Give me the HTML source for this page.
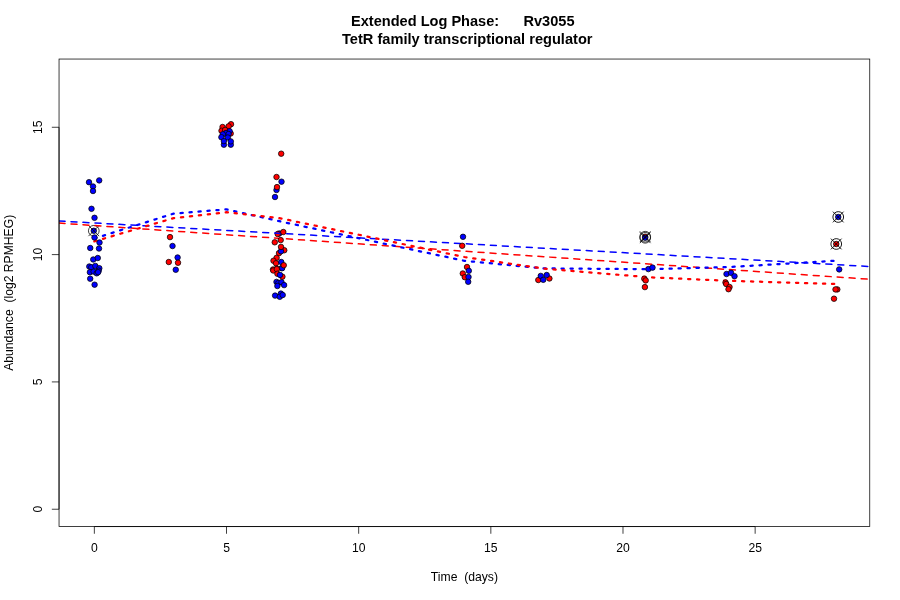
<!DOCTYPE html>
<html><head><meta charset="utf-8"><title>Rv3055</title>
<style>html,body{margin:0;padding:0;background:#fff;width:900px;height:600px;overflow:hidden}svg{display:block;will-change:transform}svg text{white-space:pre}</style>
</head><body>
<svg width="900" height="600" viewBox="0 0 900 600">
<rect x="0" y="0" width="900" height="600" fill="#fff"/>
<defs><clipPath id="c"><rect x="59.04" y="59.04" width="810.72" height="467.52"/></clipPath></defs>
<g clip-path="url(#c)">
<circle cx="645.20" cy="236.70" r="2.75" fill="#ff0000" stroke="#000" stroke-width="0.75"/>
<circle cx="93.80" cy="230.80" r="2.75" fill="#0000ff" stroke="#000" stroke-width="0.75"/>
<circle cx="645.20" cy="237.80" r="2.75" fill="#0000ff" stroke="#000" stroke-width="0.75"/>
<circle cx="836.25" cy="244.00" r="2.75" fill="#ff0000" stroke="#000" stroke-width="0.75"/>
<circle cx="838.25" cy="217.00" r="2.75" fill="#0000ff" stroke="#000" stroke-width="0.75"/>
<g fill="none" stroke="#000" stroke-width="0.75"><circle cx="93.80" cy="230.80" r="5.35"/><path d="M88.45 225.45L99.15 236.15M88.45 236.15L99.15 225.45"/></g>
<g fill="none" stroke="#000" stroke-width="0.75"><circle cx="645.20" cy="236.70" r="5.35"/><path d="M639.85 231.35L650.55 242.05M639.85 242.05L650.55 231.35"/></g>
<g fill="none" stroke="#000" stroke-width="0.75"><circle cx="645.20" cy="237.80" r="5.35"/><path d="M639.85 232.45L650.55 243.15M639.85 243.15L650.55 232.45"/></g>
<g fill="none" stroke="#000" stroke-width="0.9"><circle cx="838.25" cy="217.00" r="5.35"/><path d="M832.90 211.65L843.60 222.35M832.90 222.35L843.60 211.65"/></g>
<g fill="none" stroke="#000" stroke-width="0.9"><circle cx="836.25" cy="244.00" r="5.35"/><path d="M830.90 238.65L841.60 249.35M830.90 249.35L841.60 238.65"/></g>
<circle cx="279.20" cy="233.50" r="2.75" fill="#0000ff" stroke="#000" stroke-width="0.75"/>
<circle cx="277.70" cy="234.00" r="2.75" fill="#ff0000" stroke="#000" stroke-width="0.75"/>
<line x1="59.04" y1="221.0" x2="869.76" y2="266.5" stroke="#0000ff" stroke-width="1.5" stroke-dasharray="6 6" stroke-linecap="round"/>
<line x1="59.04" y1="223.1" x2="869.76" y2="279.3" stroke="#ff0000" stroke-width="1.5" stroke-dasharray="6 6" stroke-linecap="round"/>
<polyline points="94.35,238.50 173.65,213.60 226.51,209.40 279.37,221.20 464.40,260.80 543.69,268.40 649.42,269.20 728.72,267.10 834.45,260.80" fill="none" stroke="#0000ff" stroke-width="2.25" stroke-dasharray="2.25 6.75" stroke-linecap="round" stroke-linejoin="round"/>
<polyline points="94.35,241.40 173.65,218.10 226.51,212.20 279.37,218.10 464.40,257.00 543.69,268.60 649.42,277.30 728.72,280.80 834.45,284.00" fill="none" stroke="#ff0000" stroke-width="2.25" stroke-dasharray="2.25 6.75" stroke-linecap="round" stroke-linejoin="round"/>
<circle cx="89.00" cy="182.20" r="2.75" fill="#0000ff" stroke="#000" stroke-width="0.75"/>
<circle cx="99.20" cy="180.40" r="2.75" fill="#0000ff" stroke="#000" stroke-width="0.75"/>
<circle cx="93.00" cy="186.50" r="2.75" fill="#0000ff" stroke="#000" stroke-width="0.75"/>
<circle cx="93.00" cy="191.00" r="2.75" fill="#0000ff" stroke="#000" stroke-width="0.75"/>
<circle cx="91.50" cy="208.80" r="2.75" fill="#0000ff" stroke="#000" stroke-width="0.75"/>
<circle cx="94.50" cy="217.80" r="2.75" fill="#0000ff" stroke="#000" stroke-width="0.75"/>
<circle cx="94.50" cy="237.50" r="2.75" fill="#0000ff" stroke="#000" stroke-width="0.75"/>
<circle cx="99.50" cy="242.50" r="2.75" fill="#0000ff" stroke="#000" stroke-width="0.75"/>
<circle cx="90.25" cy="248.00" r="2.75" fill="#0000ff" stroke="#000" stroke-width="0.75"/>
<circle cx="99.00" cy="248.50" r="2.75" fill="#0000ff" stroke="#000" stroke-width="0.75"/>
<circle cx="93.25" cy="259.50" r="2.75" fill="#0000ff" stroke="#000" stroke-width="0.75"/>
<circle cx="97.75" cy="258.00" r="2.75" fill="#0000ff" stroke="#000" stroke-width="0.75"/>
<circle cx="89.30" cy="266.50" r="2.75" fill="#0000ff" stroke="#000" stroke-width="0.75"/>
<circle cx="91.30" cy="267.30" r="2.75" fill="#0000ff" stroke="#000" stroke-width="0.75"/>
<circle cx="95.30" cy="265.90" r="2.75" fill="#0000ff" stroke="#000" stroke-width="0.75"/>
<circle cx="99.30" cy="268.20" r="2.75" fill="#0000ff" stroke="#000" stroke-width="0.75"/>
<circle cx="98.70" cy="270.70" r="2.75" fill="#0000ff" stroke="#000" stroke-width="0.75"/>
<circle cx="89.90" cy="272.20" r="2.75" fill="#0000ff" stroke="#000" stroke-width="0.75"/>
<circle cx="93.60" cy="271.60" r="2.75" fill="#0000ff" stroke="#000" stroke-width="0.75"/>
<circle cx="96.70" cy="273.30" r="2.75" fill="#0000ff" stroke="#000" stroke-width="0.75"/>
<circle cx="98.10" cy="272.20" r="2.75" fill="#0000ff" stroke="#000" stroke-width="0.75"/>
<circle cx="90.20" cy="278.70" r="2.75" fill="#0000ff" stroke="#000" stroke-width="0.75"/>
<circle cx="94.60" cy="284.70" r="2.75" fill="#0000ff" stroke="#000" stroke-width="0.75"/>
<circle cx="170.00" cy="237.10" r="2.75" fill="#ff0000" stroke="#000" stroke-width="0.75"/>
<circle cx="168.80" cy="262.00" r="2.75" fill="#ff0000" stroke="#000" stroke-width="0.75"/>
<circle cx="172.50" cy="246.00" r="2.75" fill="#0000ff" stroke="#000" stroke-width="0.75"/>
<circle cx="177.60" cy="257.50" r="2.75" fill="#0000ff" stroke="#000" stroke-width="0.75"/>
<circle cx="175.75" cy="269.75" r="2.75" fill="#0000ff" stroke="#000" stroke-width="0.75"/>
<circle cx="178.00" cy="262.75" r="2.75" fill="#ff0000" stroke="#000" stroke-width="0.75"/>
<circle cx="222.55" cy="127.00" r="2.75" fill="#ff0000" stroke="#000" stroke-width="0.75"/>
<circle cx="231.00" cy="124.20" r="2.75" fill="#ff0000" stroke="#000" stroke-width="0.75"/>
<circle cx="228.60" cy="126.30" r="2.75" fill="#ff0000" stroke="#000" stroke-width="0.75"/>
<circle cx="221.50" cy="130.80" r="2.75" fill="#ff0000" stroke="#000" stroke-width="0.75"/>
<circle cx="225.10" cy="129.90" r="2.75" fill="#ff0000" stroke="#000" stroke-width="0.75"/>
<circle cx="230.70" cy="133.50" r="2.75" fill="#ff0000" stroke="#000" stroke-width="0.75"/>
<circle cx="229.60" cy="131.20" r="2.75" fill="#0000ff" stroke="#000" stroke-width="0.75"/>
<circle cx="226.00" cy="133.00" r="2.75" fill="#0000ff" stroke="#000" stroke-width="0.75"/>
<circle cx="228.60" cy="134.00" r="2.75" fill="#0000ff" stroke="#000" stroke-width="0.75"/>
<circle cx="222.80" cy="134.30" r="2.75" fill="#0000ff" stroke="#000" stroke-width="0.75"/>
<circle cx="221.40" cy="137.20" r="2.75" fill="#0000ff" stroke="#000" stroke-width="0.75"/>
<circle cx="227.80" cy="137.50" r="2.75" fill="#0000ff" stroke="#000" stroke-width="0.75"/>
<circle cx="223.90" cy="144.70" r="2.75" fill="#0000ff" stroke="#000" stroke-width="0.75"/>
<circle cx="230.80" cy="144.70" r="2.75" fill="#0000ff" stroke="#000" stroke-width="0.75"/>
<circle cx="223.90" cy="141.10" r="2.75" fill="#0000ff" stroke="#000" stroke-width="0.75"/>
<circle cx="230.80" cy="141.40" r="2.75" fill="#0000ff" stroke="#000" stroke-width="0.75"/>
<circle cx="281.50" cy="181.70" r="2.75" fill="#0000ff" stroke="#000" stroke-width="0.75"/>
<circle cx="276.50" cy="190.00" r="2.75" fill="#0000ff" stroke="#000" stroke-width="0.75"/>
<circle cx="275.00" cy="197.00" r="2.75" fill="#0000ff" stroke="#000" stroke-width="0.75"/>
<circle cx="281.20" cy="153.70" r="2.75" fill="#ff0000" stroke="#000" stroke-width="0.75"/>
<circle cx="276.50" cy="177.00" r="2.75" fill="#ff0000" stroke="#000" stroke-width="0.75"/>
<circle cx="277.00" cy="187.10" r="2.75" fill="#ff0000" stroke="#000" stroke-width="0.75"/>
<circle cx="283.30" cy="232.00" r="2.75" fill="#ff0000" stroke="#000" stroke-width="0.75"/>
<circle cx="274.75" cy="242.30" r="2.75" fill="#ff0000" stroke="#000" stroke-width="0.75"/>
<circle cx="280.70" cy="240.10" r="2.75" fill="#ff0000" stroke="#000" stroke-width="0.75"/>
<circle cx="284.25" cy="250.25" r="2.75" fill="#ff0000" stroke="#000" stroke-width="0.75"/>
<circle cx="279.00" cy="253.10" r="2.75" fill="#ff0000" stroke="#000" stroke-width="0.75"/>
<circle cx="281.00" cy="251.25" r="2.75" fill="#0000ff" stroke="#000" stroke-width="0.75"/>
<circle cx="281.00" cy="246.90" r="2.75" fill="#ff0000" stroke="#000" stroke-width="0.75"/>
<circle cx="276.60" cy="257.80" r="2.75" fill="#ff0000" stroke="#000" stroke-width="0.75"/>
<circle cx="273.50" cy="260.75" r="2.75" fill="#ff0000" stroke="#000" stroke-width="0.75"/>
<circle cx="276.00" cy="263.25" r="2.75" fill="#ff0000" stroke="#000" stroke-width="0.75"/>
<circle cx="281.25" cy="262.00" r="2.75" fill="#0000ff" stroke="#000" stroke-width="0.75"/>
<circle cx="281.75" cy="268.00" r="2.75" fill="#0000ff" stroke="#000" stroke-width="0.75"/>
<circle cx="282.10" cy="268.20" r="2.75" fill="#0000ff" stroke="#000" stroke-width="0.75"/>
<circle cx="283.75" cy="265.25" r="2.75" fill="#ff0000" stroke="#000" stroke-width="0.75"/>
<circle cx="276.75" cy="268.75" r="2.75" fill="#ff0000" stroke="#000" stroke-width="0.75"/>
<circle cx="273.00" cy="269.50" r="2.75" fill="#ff0000" stroke="#000" stroke-width="0.75"/>
<circle cx="273.30" cy="270.50" r="2.75" fill="#ff0000" stroke="#000" stroke-width="0.75"/>
<circle cx="276.80" cy="269.10" r="2.75" fill="#ff0000" stroke="#000" stroke-width="0.75"/>
<circle cx="277.40" cy="273.75" r="2.75" fill="#ff0000" stroke="#000" stroke-width="0.75"/>
<circle cx="282.40" cy="276.70" r="2.75" fill="#ff0000" stroke="#000" stroke-width="0.75"/>
<circle cx="280.00" cy="274.90" r="2.75" fill="#0000ff" stroke="#000" stroke-width="0.75"/>
<circle cx="276.50" cy="281.90" r="2.75" fill="#0000ff" stroke="#000" stroke-width="0.75"/>
<circle cx="278.30" cy="283.10" r="2.75" fill="#0000ff" stroke="#000" stroke-width="0.75"/>
<circle cx="281.50" cy="282.20" r="2.75" fill="#0000ff" stroke="#000" stroke-width="0.75"/>
<circle cx="284.10" cy="285.10" r="2.75" fill="#0000ff" stroke="#000" stroke-width="0.75"/>
<circle cx="277.40" cy="286.00" r="2.75" fill="#0000ff" stroke="#000" stroke-width="0.75"/>
<circle cx="275.10" cy="295.60" r="2.75" fill="#0000ff" stroke="#000" stroke-width="0.75"/>
<circle cx="280.90" cy="293.60" r="2.75" fill="#0000ff" stroke="#000" stroke-width="0.75"/>
<circle cx="279.75" cy="296.80" r="2.75" fill="#0000ff" stroke="#000" stroke-width="0.75"/>
<circle cx="282.70" cy="295.00" r="2.75" fill="#0000ff" stroke="#000" stroke-width="0.75"/>
<circle cx="462.20" cy="245.80" r="2.75" fill="#ff0000" stroke="#000" stroke-width="0.75"/>
<circle cx="467.00" cy="267.00" r="2.75" fill="#ff0000" stroke="#000" stroke-width="0.75"/>
<circle cx="462.80" cy="273.50" r="2.75" fill="#ff0000" stroke="#000" stroke-width="0.75"/>
<circle cx="464.80" cy="277.20" r="2.75" fill="#ff0000" stroke="#000" stroke-width="0.75"/>
<circle cx="463.00" cy="236.80" r="2.75" fill="#0000ff" stroke="#000" stroke-width="0.75"/>
<circle cx="468.80" cy="270.80" r="2.75" fill="#0000ff" stroke="#000" stroke-width="0.75"/>
<circle cx="468.50" cy="277.00" r="2.75" fill="#0000ff" stroke="#000" stroke-width="0.75"/>
<circle cx="468.20" cy="281.80" r="2.75" fill="#0000ff" stroke="#000" stroke-width="0.75"/>
<circle cx="538.30" cy="280.00" r="2.75" fill="#ff0000" stroke="#000" stroke-width="0.75"/>
<circle cx="549.40" cy="278.50" r="2.75" fill="#ff0000" stroke="#000" stroke-width="0.75"/>
<circle cx="540.75" cy="275.90" r="2.75" fill="#0000ff" stroke="#000" stroke-width="0.75"/>
<circle cx="543.25" cy="279.80" r="2.75" fill="#0000ff" stroke="#000" stroke-width="0.75"/>
<circle cx="546.70" cy="275.00" r="2.75" fill="#0000ff" stroke="#000" stroke-width="0.75"/>
<circle cx="644.30" cy="278.70" r="2.75" fill="#ff0000" stroke="#000" stroke-width="0.75"/>
<circle cx="645.70" cy="280.40" r="2.75" fill="#ff0000" stroke="#000" stroke-width="0.75"/>
<circle cx="644.90" cy="287.10" r="2.75" fill="#ff0000" stroke="#000" stroke-width="0.75"/>
<circle cx="648.40" cy="269.10" r="2.75" fill="#0000ff" stroke="#000" stroke-width="0.75"/>
<circle cx="652.50" cy="267.60" r="2.75" fill="#0000ff" stroke="#000" stroke-width="0.75"/>
<circle cx="725.50" cy="282.50" r="2.75" fill="#ff0000" stroke="#000" stroke-width="0.75"/>
<circle cx="726.20" cy="284.00" r="2.75" fill="#ff0000" stroke="#000" stroke-width="0.75"/>
<circle cx="729.50" cy="287.00" r="2.75" fill="#ff0000" stroke="#000" stroke-width="0.75"/>
<circle cx="728.50" cy="289.20" r="2.75" fill="#ff0000" stroke="#000" stroke-width="0.75"/>
<circle cx="726.50" cy="274.00" r="2.75" fill="#0000ff" stroke="#000" stroke-width="0.75"/>
<circle cx="731.00" cy="272.80" r="2.75" fill="#0000ff" stroke="#000" stroke-width="0.75"/>
<circle cx="734.50" cy="276.20" r="2.75" fill="#0000ff" stroke="#000" stroke-width="0.75"/>
<circle cx="837.30" cy="289.40" r="2.75" fill="#ff0000" stroke="#000" stroke-width="0.75"/>
<circle cx="835.50" cy="289.40" r="2.75" fill="#ff0000" stroke="#000" stroke-width="0.75"/>
<circle cx="834.00" cy="298.70" r="2.75" fill="#ff0000" stroke="#000" stroke-width="0.75"/>
<circle cx="839.20" cy="269.40" r="2.75" fill="#0000ff" stroke="#000" stroke-width="0.75"/>
</g>
<rect x="59.04" y="59.04" width="810.72" height="467.52" fill="none" stroke="#000" stroke-width="0.75"/>
<path d="M94.35 526.56L755.15 526.56M94.35 526.56L94.35 533.76M226.51 526.56L226.51 533.76M358.67 526.56L358.67 533.76M490.83 526.56L490.83 533.76M622.99 526.56L622.99 533.76M755.15 526.56L755.15 533.76M59.04 509.24L59.04 127.28M59.04 509.24L51.84 509.24M59.04 381.92L51.84 381.92M59.04 254.60L51.84 254.60M59.04 127.28L51.84 127.28" stroke="#000" stroke-width="0.75" fill="none"/>
<text x="94.35" y="551.7" font-size="12.17" text-anchor="middle" font-family="Liberation Sans, Arial, Helvetica, sans-serif">0</text>
<text x="226.51" y="551.7" font-size="12.17" text-anchor="middle" font-family="Liberation Sans, Arial, Helvetica, sans-serif">5</text>
<text x="358.67" y="551.7" font-size="12.17" text-anchor="middle" font-family="Liberation Sans, Arial, Helvetica, sans-serif">10</text>
<text x="490.83" y="551.7" font-size="12.17" text-anchor="middle" font-family="Liberation Sans, Arial, Helvetica, sans-serif">15</text>
<text x="622.99" y="551.7" font-size="12.17" text-anchor="middle" font-family="Liberation Sans, Arial, Helvetica, sans-serif">20</text>
<text x="755.15" y="551.7" font-size="12.17" text-anchor="middle" font-family="Liberation Sans, Arial, Helvetica, sans-serif">25</text>
<text transform="translate(42,509.24) rotate(-90)" font-size="12.17" text-anchor="middle" font-family="Liberation Sans, Arial, Helvetica, sans-serif">0</text>
<text transform="translate(42,381.92) rotate(-90)" font-size="12.17" text-anchor="middle" font-family="Liberation Sans, Arial, Helvetica, sans-serif">5</text>
<text transform="translate(42,254.60) rotate(-90)" font-size="12.17" text-anchor="middle" font-family="Liberation Sans, Arial, Helvetica, sans-serif">10</text>
<text transform="translate(42,127.28) rotate(-90)" font-size="12.17" text-anchor="middle" font-family="Liberation Sans, Arial, Helvetica, sans-serif">15</text>
<text x="464.4" y="580.7" font-size="12.17" text-anchor="middle" font-family="Liberation Sans, Arial, Helvetica, sans-serif" xml:space="preserve">Time  (days)</text>
<text transform="translate(13.0,292.8) rotate(-90)" font-size="12.17" text-anchor="middle" font-family="Liberation Sans, Arial, Helvetica, sans-serif" xml:space="preserve">Abundance  (log2 RPMHEG)</text>
<text x="351.00" y="26" font-size="15" font-weight="bold" font-family="Liberation Sans, Arial, Helvetica, sans-serif" textLength="223.50" lengthAdjust="spacingAndGlyphs" xml:space="preserve">Extended Log Phase:      Rv3055</text>
<text x="342.00" y="44" font-size="15" font-weight="bold" font-family="Liberation Sans, Arial, Helvetica, sans-serif" textLength="250.50" lengthAdjust="spacingAndGlyphs">TetR family transcriptional regulator</text>
</svg>
</body></html>
